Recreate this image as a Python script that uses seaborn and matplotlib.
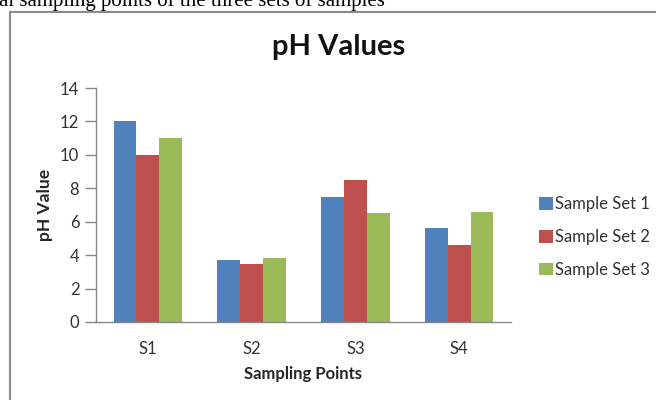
import matplotlib
matplotlib.use("Agg")
import matplotlib.pyplot as plt
import matplotlib.patches as mpatches
import seaborn as sns
import pandas as pd

categories = ["S1", "S2", "S3", "S4"]
series_names = ["Sample Set 1", "Sample Set 2", "Sample Set 3"]
set1 = [12.0, 3.7, 7.5, 5.6]
set2 = [10.0, 3.5, 8.5, 4.6]
set3 = [11.0, 3.85, 6.5, 6.6]
y_ticks = [0, 2, 4, 6, 8, 10, 12, 14]

rows = []
for name, vals in zip(series_names, [set1, set2, set3]):
    for c, v in zip(categories, vals):
        rows.append({"Sampling Points": c, "pH Value": v, "Set": name})
df = pd.DataFrame(rows)

sns.set_style("white")
plt.rcParams["font.family"] = ["Lato", "DejaVu Sans"]

W, H = 656, 400
fig = plt.figure(figsize=(W / 100, H / 100), dpi=100)
ax = fig.add_axes([96 / W, 1 - 322 / H, (511 - 96) / W, (322 - 88) / H])

palette = ["#4F81BD", "#C0504D", "#9BBB59"]
sns.barplot(data=df, x="Sampling Points", y="pH Value", hue="Set",
            palette=palette, width=0.66, gap=0, ax=ax, saturation=1,
            edgecolor="none", linewidth=0, errorbar=None)

ax.set_ylim(0, 14)
ax.set_yticks(y_ticks)
ax.set_xlim(-0.5, 3.5)
for s in ["top", "right"]:
    ax.spines[s].set_visible(False)
grey = "#868686"
ax.spines["left"].set_color(grey)
ax.spines["bottom"].set_color(grey)
ax.spines["left"].set_linewidth(1.0)
ax.spines["bottom"].set_linewidth(1.0)
ax.tick_params(axis="y", direction="out", length=8, width=1, color=grey,
               labelsize=12, labelcolor="#333333", pad=4, left=True)
ax.tick_params(axis="x", length=0, labelsize=12, labelcolor="#333333", pad=14)
ax.set_xlabel("Sampling Points", fontsize=12, fontweight="bold", labelpad=6)
ax.set_ylabel("pH Value", fontsize=12.5, fontweight="bold", labelpad=5)

fig.text(339 / W, 1 - 47 / H, "pH Values", ha="center", va="center",
         fontsize=21, fontweight="bold", color="#111111")

handles, labels = ax.get_legend_handles_labels()
leg = ax.legend(handles, labels, loc="center left",
                bbox_to_anchor=(526 / W, 1 - 237 / H), bbox_transform=fig.transFigure,
                frameon=False, fontsize=12, handlelength=0.8, handleheight=0.8,
                handletextpad=0.15, labelspacing=1.0, borderpad=0.3)
for t in leg.get_texts():
    t.set_color("#333333")

rect = mpatches.Rectangle((10 / W, -0.1), 1.1, 1 - 12 / H + 0.1,
                          transform=fig.transFigure, fill=False,
                          edgecolor="#8a8a8a", linewidth=1.5, clip_on=False)
fig.patches.append(rect)

fig.text(385 / W, 1 - 6 / H, "al sampling points of the three sets of samples",
         ha="right", va="baseline", fontsize=15, family="Liberation Serif",
         color="black")

fig.savefig("out.png", dpi=100)
